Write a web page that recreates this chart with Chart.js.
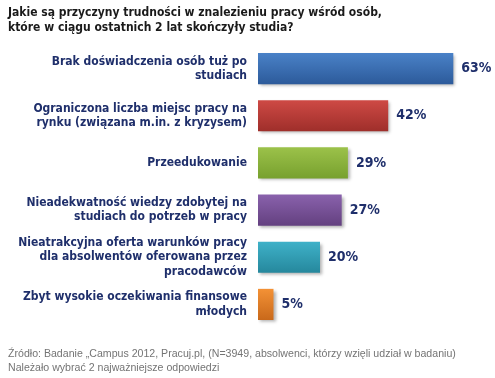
<!DOCTYPE html>
<html>
<head>
<meta charset="utf-8">
<script src="https://cdn.jsdelivr.net/npm/chart.js@4"></script>
<style>
  html, body { margin: 0; padding: 0; background: #fff; }
  #wrap { position: relative; width: 495px; height: 378px; overflow: hidden; }
  #title { position: absolute; left: 8px; top: 5px; font: bold 12px "DejaVu Sans Condensed", "DejaVu Sans", sans-serif; color: #1a1a1a; line-height: 15px; }
  #foot { position: absolute; left: 8px; top: 346px; font: 10.6px "Liberation Sans", sans-serif; color: #747474; line-height: 14px; }
  canvas { position: absolute; left: 0; top: 0; }
</style>
</head>
<body>
<div id="wrap">
  <canvas id="c" width="495" height="378"></canvas>
  <div id="title">Jakie są przyczyny trudności w znalezieniu pracy wśród osób,<br>które w ciągu ostatnich 2 lat skończyły studia?</div>
  <div id="foot">Źródło: Badanie „Campus 2012, Pracuj.pl, (N=3949, absolwenci, którzy wzięli udział w badaniu)<br>Należało wybrać 2 najważniejsze odpowiedzi</div>
</div>
<script>
const categories = [
  ['Brak doświadczenia osób tuż po', 'studiach'],
  ['Ograniczona liczba miejsc pracy na', 'rynku (związana m.in. z kryzysem)'],
  ['Przeedukowanie'],
  ['Nieadekwatność wiedzy zdobytej na', 'studiach do potrzeb w pracy'],
  ['Nieatrakcyjna oferta warunków pracy', 'dla absolwentów oferowana przez', 'pracodawców'],
  ['Zbyt wysokie oczekiwania finansowe', 'młodych']
];
const values = [63, 42, 29, 27, 20, 5];
const lightColors = ['#4a82c8', '#cf4a45', '#9cc24a', '#8a62ad', '#3fb2c9', '#f49236'];
const darkColors = ['#2c5a9a', '#9e2e2a', '#77a02e', '#63407f', '#25879c', '#c8681a'];

function barGradient(context) {
  const chart = context.chart;
  const i = context.dataIndex;
  const y = chart.scales && chart.scales.y;
  if (!chart.chartArea || !y || y.getPixelForValue(i) == null) return lightColors[i];
  const mid = y.getPixelForValue(i);
  const g = chart.ctx.createLinearGradient(0, mid - 16, 0, mid + 16);
  g.addColorStop(0, lightColors[i]);
  g.addColorStop(1, darkColors[i]);
  return g;
}

const valueLabels = {
  id: 'valueLabels',
  beforeDatasetsDraw(chart) {
    chart.ctx.save();
    chart.ctx.shadowColor = 'rgba(0,0,0,0.3)';
    chart.ctx.shadowOffsetX = 2;
    chart.ctx.shadowOffsetY = 2;
    chart.ctx.shadowBlur = 3;
  },
  afterDatasetsDraw(chart) {
    chart.ctx.restore();
    const ctx = chart.ctx;
    const meta = chart.getDatasetMeta(0);
    ctx.save();
    ctx.font = 'bold 14px "DejaVu Sans Condensed", "DejaVu Sans", sans-serif';
    ctx.fillStyle = '#1f2f6b';
    ctx.textBaseline = 'middle';
    ctx.textAlign = 'left';
    meta.data.forEach((bar, i) => {
      ctx.fillText(values[i] + '%', bar.x + 8, bar.y);
    });
    ctx.restore();
  }
};

new Chart(document.getElementById('c'), {
  type: 'bar',
  data: {
    labels: categories,
    datasets: [{
      data: values,
      backgroundColor: barGradient,
      borderWidth: 0,
      barPercentage: 0.66,
      categoryPercentage: 1.0
    }]
  },
  options: {
    indexAxis: 'y',
    responsive: false,
    animation: false,
    layout: { padding: { left: 0, right: 20, top: 45, bottom: 50 } },
    plugins: { legend: { display: false }, tooltip: { enabled: false } },
    scales: {
      x: { display: false, min: 0, max: 70 },
      y: {
        afterFit(scale) { scale.width = 258; },
        grid: { display: false, drawTicks: false },
        border: { display: false },
        ticks: {
          padding: 11,
          color: '#1f2f6b',
          font: { family: '"DejaVu Sans Condensed", "DejaVu Sans", sans-serif', weight: 'bold', size: 12, lineHeight: 1.2 }
        }
      }
    }
  },
  plugins: [valueLabels]
});
</script>
</body>
</html>
